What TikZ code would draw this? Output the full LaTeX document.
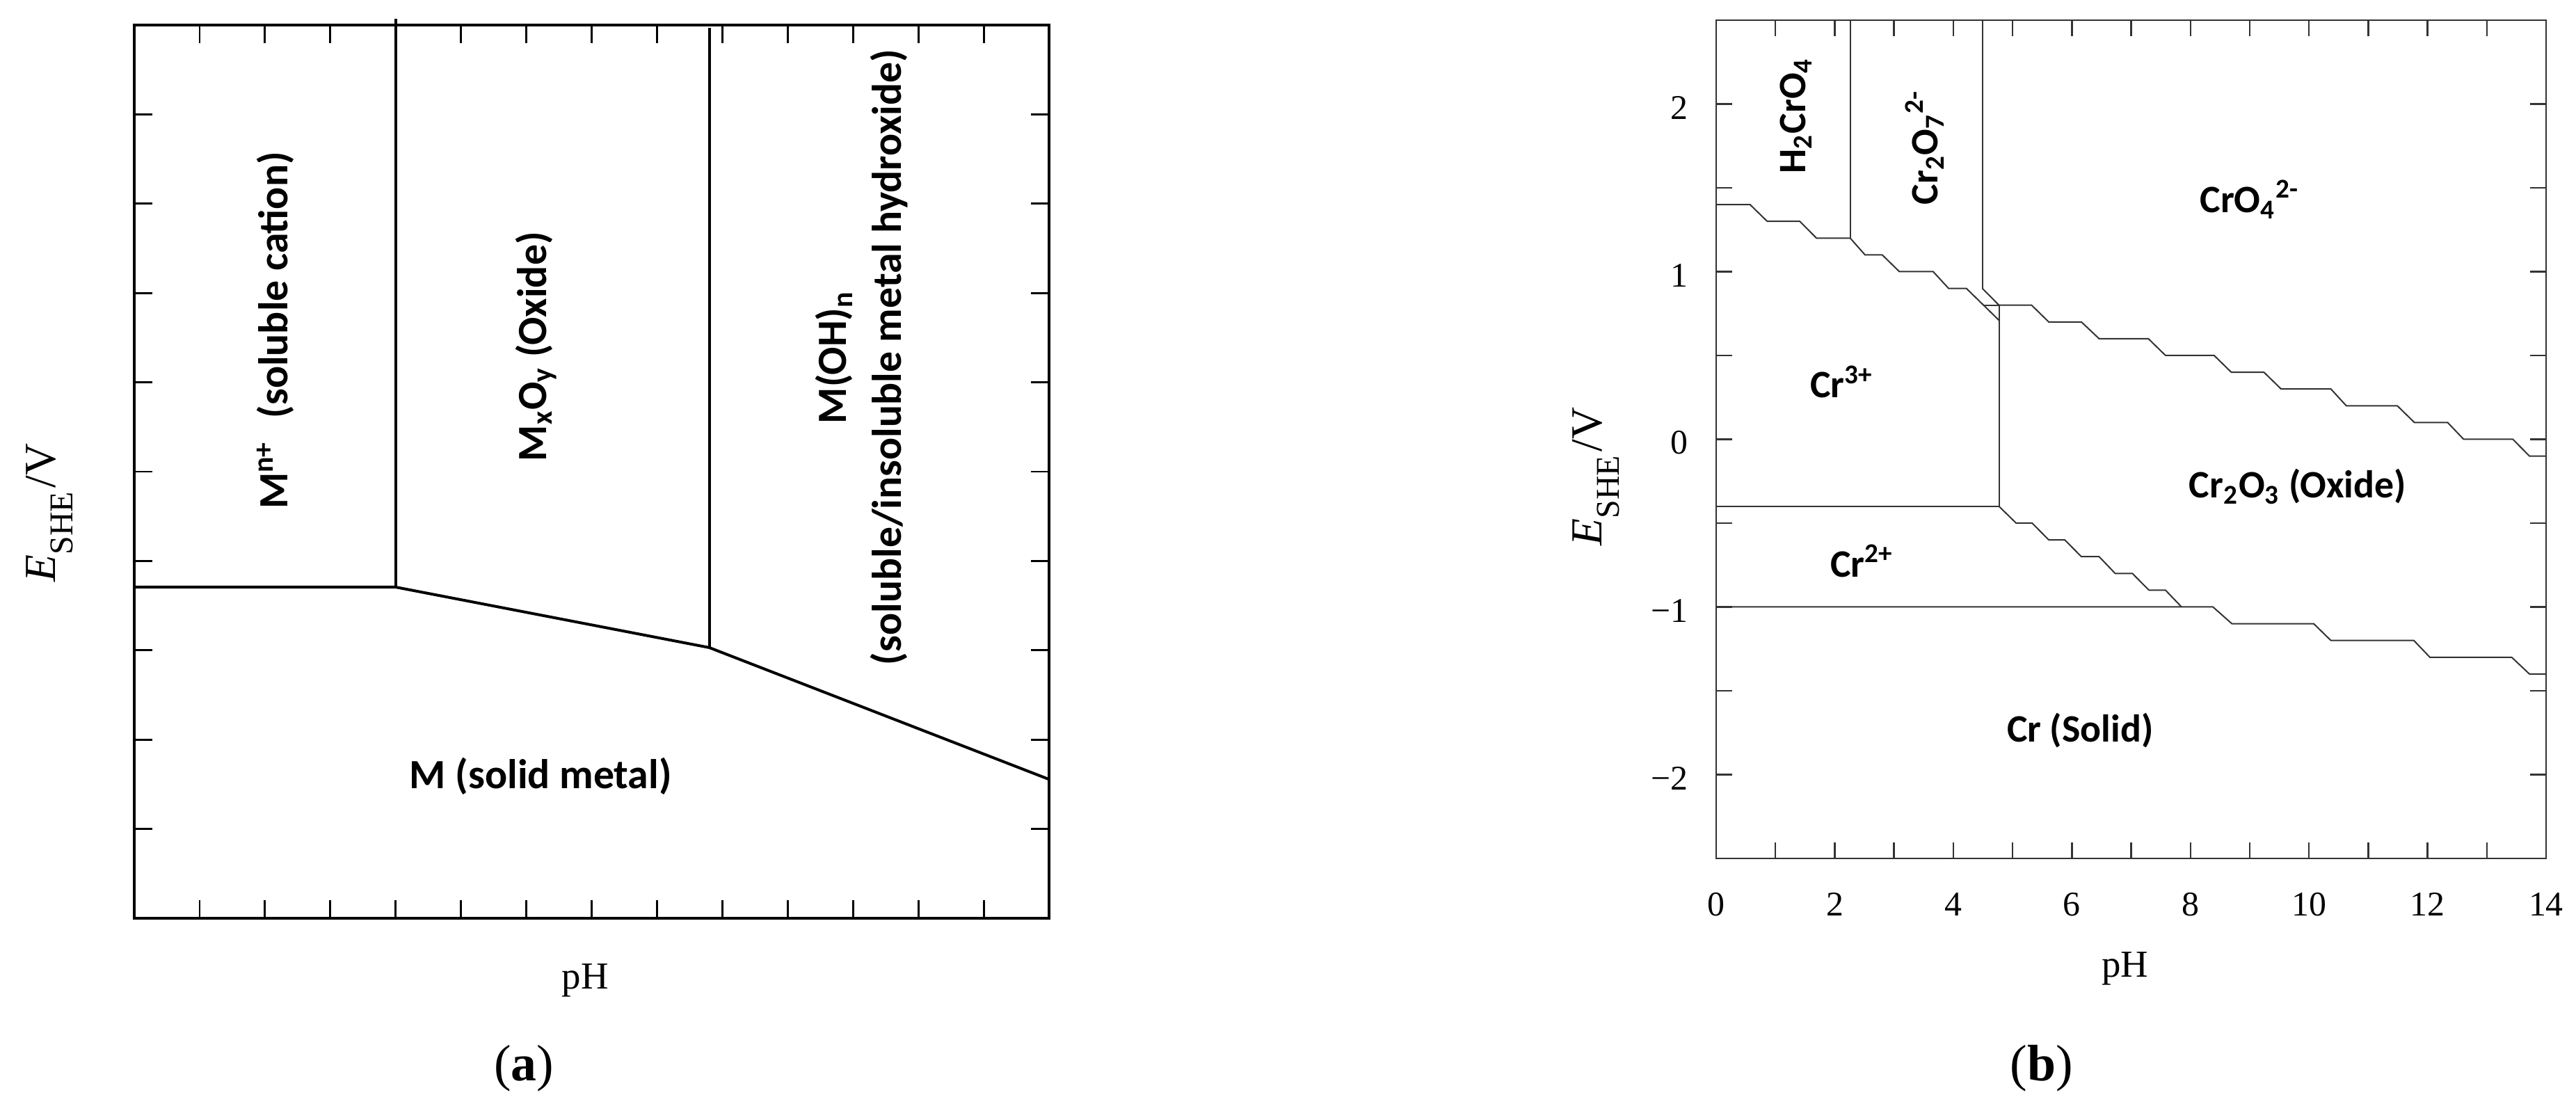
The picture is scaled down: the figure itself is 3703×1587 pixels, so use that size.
\documentclass[tikz,border=0pt]{standalone}
\usepackage{fontspec}
\setmainfont{Liberation Serif}
\newfontfamily\labfont{Carlito}
\tikzset{
  axa/.style={line width=0.9bp, black},
  pla/.style={line width=1.0bp, black, line join=miter},
  tka/.style={line width=0.7bp, black},
  axb/.style={line width=0.6bp, black!80},
  plb/.style={line width=0.5bp, black!80, line join=miter},
  lab/.style={font=\labfont\bfseries\fontsize{15}{19.75}\selectfont, inner sep=0pt},
  labb/.style={font=\labfont\bfseries\fontsize{14}{17}\selectfont, inner sep=0pt},
  tnum/.style={font=\fontsize{12.5}{15}\selectfont, inner sep=0pt},
  axlab/.style={font=\fontsize{13.75}{16}\selectfont, inner sep=0pt},
  ylab/.style={font=\fontsize{16}{19}\selectfont, inner sep=0pt},
  captxt/.style={font=\fontsize{18.5}{22}\selectfont, inner sep=0pt},
}
\newcommand{\eshe}{{\itshape E}\raisebox{-6.25bp}{\fontsize{12}{14}\selectfont SHE}\hspace{1.5bp}/V}
\begin{document}
\begin{tikzpicture}[x=0.25bp,y=0.25bp]
\useasboundingbox (0,0) rectangle (3703,1587);

% ---------- axis titles and captions ----------
\node[ylab, rotate=90, anchor=base] (ya) at (80,850) {\eshe};
\node[ylab, rotate=90, anchor=base] (yb) at (2302,902) {\eshe};
\node[captxt] (capa) at (753,51) {(\textbf{a})};
\node[captxt] (capb) at (2935,51) {(\textbf{b})};

% ---------- panel (a) ----------
\begin{scope}[shift={(48.25bp,66.75bp)}, x=23.4825bp, y=32.1bp]
  \draw[axa] (0,0) rectangle (14,10);
  \foreach \i in {1,...,13}{
    \draw[tka] (\i,0) -- ++(0pt,6.5bp);
    \draw[tka] (\i,10) -- ++(0pt,-6.5bp);
  }
  \foreach \j in {1,...,9}{
    \draw[tka] (0,\j) -- ++(6.5bp,0pt);
    \draw[tka] (14,\j) -- ++(-6.5bp,0pt);
  }
  \coordinate (a1) at (0,3.707);
  \coordinate (a2) at (4,3.707);
  \coordinate (a3) at (8.8,3.03);
  \coordinate (a4) at (14,1.555);
  \coordinate (a2t) at (4,10.07);
  \coordinate (a3t) at (8.8,9.97);
  \draw[pla] (a1) -- (a2) -- (a3) -- (a4);
  \draw[pla] (a2) -- (a2t);
  \draw[pla] (a3) -- (a3t);
  \node[lab, rotate=90] (mn) at (2.16,6.58) {M\textsuperscript{n+}\hspace{0.55em}(soluble cation)};
  \node[lab, rotate=90] (mo) at (6.15,6.40) {M\textsubscript{x}O\textsubscript{y} (Oxide)};
  \node[lab, rotate=90, align=center] (mh) at (11.13,6.28) {M(OH)\textsubscript{n}\\(soluble/insoluble metal hydroxide)};
  \node[lab] (ms) at (6.22,1.59) {M (solid metal)};
  \node[axlab, anchor=base] (pha) at ([yshift=-25.5bp]6.9,0) {pH};
\end{scope}

% ---------- panel (b) ----------
\begin{scope}[shift={(616.75bp,238.875bp)}, x=21.3bp, y=60.25bp]
  \draw[axb] (0,-2.5) rectangle (14,2.5);
  \foreach \i in {1,...,13}{
    \draw[axb] (\i,-2.5) -- ++(0pt,5.75bp);
    \draw[axb] (\i,2.5) -- ++(0pt,-5.75bp);
  }
  \foreach \v in {-2,-1.5,...,2}{
    \draw[axb] (0,\v) -- ++(5.75bp,0pt);
    \draw[axb] (14,\v) -- ++(-5.75bp,0pt);
  }
  \foreach \v/\t/\n in {2/2/a,1/1/b,0/0/c,-1/−1/d,-2/−2/e}{
    \node[tnum, anchor=east] (yl\n) at ([xshift=-10bp,yshift=-1.3bp]0,\v) {\t};
  }
  \foreach \i in {0,2,...,14}{
    \node[tnum, anchor=base] (xl\i) at ([yshift=-20.75bp]\i,-2.5) {\i};
  }
  \node[axlab, anchor=base] (phb) at ([yshift=-42.75bp]6.9,-2.5) {pH};

  % junctions
  \coordinate (b1) at (2.26,1.2);
  \coordinate (b1t) at (2.26,2.5);
  \coordinate (b2) at (4.49,0.9);
  \coordinate (b2t) at (4.49,2.5);
  \coordinate (b3) at (4.77,0.8);
  \coordinate (b3a) at (4.51,0.8);
  \coordinate (b4) at (4.77,-0.4);
  \coordinate (b4l) at (0,-0.4);
  \coordinate (b5) at (7.85,-1.0);
  \coordinate (b5l) at (0,-1.0);

  % Cr3+ upper boundary
  \draw[plb] (0,1.4) -- (0.57,1.4) -- (0.86,1.3) -- (1.41,1.3) -- (1.69,1.2) -- (b1)
    -- (2.51,1.1) -- (2.80,1.1) -- (3.09,1.0) -- (3.66,1.0) -- (3.92,0.9) -- (4.22,0.9) -- (4.77,0.71);
  \draw[plb] (b1) -- (b1t);
  \draw[plb] (b2) -- (b2t);
  % CrO4 / Cr2O3
  \draw[plb] (b2) -- (b3) -- (5.32,0.8) -- (5.61,0.7) -- (6.16,0.7) -- (6.46,0.6) -- (7.29,0.6)
    -- (7.58,0.5) -- (8.40,0.5) -- (8.69,0.4) -- (9.24,0.4) -- (9.53,0.3) -- (10.37,0.3)
    -- (10.63,0.2) -- (11.49,0.2) -- (11.78,0.1) -- (12.34,0.1) -- (12.61,0) -- (13.44,0)
    -- (13.72,-0.1) -- (14,-0.1);
  \draw[plb] (b3a) -- (b3);
  \draw[plb] (b3) -- (b4);
  \draw[plb] (b4l) -- (b4);
  % Cr2+ / Cr2O3
  \draw[plb] (b4) -- (5.06,-0.5) -- (5.33,-0.5) -- (5.61,-0.6) -- (5.88,-0.6) -- (6.16,-0.7)
    -- (6.46,-0.7) -- (6.73,-0.8) -- (7.02,-0.8) -- (7.30,-0.9) -- (7.58,-0.9) -- (b5);
  % Cr lower boundary
  \draw[plb] (b5l) -- (b5) -- (8.38,-1.0) -- (8.70,-1.1) -- (10.08,-1.1) -- (10.37,-1.2)
    -- (11.77,-1.2) -- (12.04,-1.3) -- (13.42,-1.3) -- (13.72,-1.4) -- (14,-1.4);

  \node[labb, rotate=90, anchor=base] (h2) at (1.51,1.93) {H\textsubscript{2}CrO\textsubscript{4}};
  \node[labb, rotate=90, anchor=base] (c7) at (3.74,1.74) {Cr\textsubscript{2}O\textsubscript{7}\textsuperscript{2-}};
  \node[labb, anchor=base] (c4) at (9.0,1.352) {CrO\textsubscript{4}\textsuperscript{2-}};
  \node[labb, anchor=base] (c3) at (2.12,0.247) {Cr\textsuperscript{3+}};
  \node[labb, anchor=base] (c2) at (2.46,-0.82) {Cr\textsuperscript{2+}};
  \node[labb, anchor=base] (ox) at (9.81,-0.35) {Cr\textsubscript{2}O\textsubscript{3} (Oxide)};
  \node[labb, anchor=base] (cs) at (6.14,-1.807) {Cr (Solid)};
\end{scope}
\end{tikzpicture}
\end{document}
